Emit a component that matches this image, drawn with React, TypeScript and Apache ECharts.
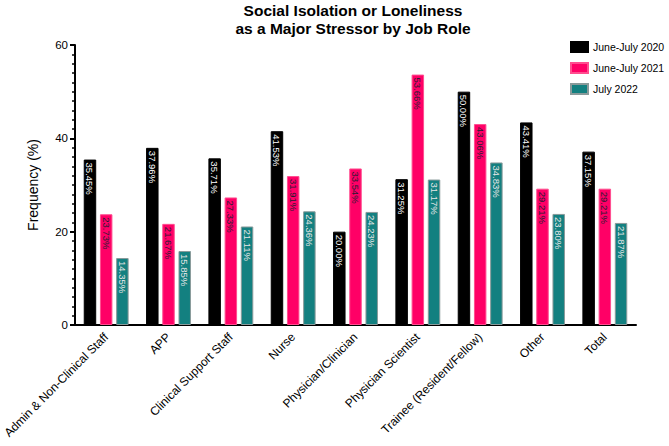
import React, { useEffect, useRef } from "react";
import * as echarts from "echarts";

const categories = [
  "Admin & Non-Clinical Staff",
  "APP",
  "Clinical Support Staff",
  "Nurse",
  "Physician/Clinician",
  "Physician Scientist",
  "Trainee (Resident/Fellow)",
  "Other",
  "Total",
];
const seriesNames = ["June-July 2020", "June-July 2021", "July 2022"];
const values2020 = [35.45, 37.96, 35.71, 41.53, 20.0, 31.25, 50.0, 43.41, 37.15];
const values2021 = [23.73, 21.67, 27.33, 31.91, 33.54, 53.66, 43.06, 29.21, 29.21];
const values2022 = [14.35, 15.85, 21.11, 24.36, 24.23, 31.17, 34.83, 23.8, 21.87];
const yTicks = [0, 20, 40, 60];

const FONT = "'Liberation Sans', Arial, Helvetica, sans-serif";

export default function App() {
  const ref = useRef<HTMLDivElement>(null);
  useEffect(() => {
    document.body.style.margin = "0";
    if (!ref.current) return;
    const chart = echarts.init(ref.current, undefined, { renderer: "svg" });
    const colors = ["#000000", "#FF0066", "#138080"];
    const borders = ["#000000", "#ff4d8f", "#8a9a9a"];
    const labelColors = ["#ffffff", "#2a1a33", "#e6e6e6"];
    const data = [values2020, values2021, values2022];
    chart.setOption({
      animation: false,
      textStyle: { fontFamily: FONT },
      title: {
        text: "Social Isolation or Loneliness\nas a Major Stressor by Job Role",
        left: 353,
        textAlign: "center",
        top: 0,
        padding: [2, 0, 0, 0],
        textStyle: {
          fontFamily: FONT,
          fontSize: 15.5,
          fontWeight: "bold",
          lineHeight: 17.5,
          color: "#000",
        },
      },
      legend: {
        orient: "vertical",
        left: 570,
        top: 41,
        padding: 0,
        itemWidth: 17,
        itemHeight: 10,
        itemGap: 9,
        icon: "rect",
        textStyle: { fontFamily: FONT, fontSize: 10.5, color: "#000" },
        data: seriesNames,
      },
      grid: { left: 75, right: 33, top: 45, bottom: 121, containLabel: false },
      xAxis: {
        type: "category",
        data: categories,
        axisLine: { lineStyle: { color: "#000", width: 2 } },
        axisTick: { alignWithLabel: true, length: 5, lineStyle: { color: "#000", width: 2 } },
        axisLabel: {
          rotate: 45,
          interval: 0,
          fontFamily: FONT,
          fontSize: 12,
          color: "#000",
          margin: 10,
        },
      },
      yAxis: {
        type: "value",
        min: yTicks[0],
        max: yTicks[yTicks.length - 1],
        interval: 20,
        name: "Frequency (%)",
        nameLocation: "middle",
        nameGap: 35,
        nameTextStyle: { fontFamily: FONT, fontSize: 14, color: "#000" },
        axisLine: { show: true, lineStyle: { color: "#000", width: 2 } },
        axisTick: { show: true, length: 5, lineStyle: { color: "#000", width: 2 } },
        minorTick: { show: true, splitNumber: 10, length: 3, lineStyle: { color: "#000", width: 1.5 } },
        splitLine: { show: false },
        axisLabel: { fontFamily: FONT, fontSize: 11.5, color: "#000", margin: 7 },
      },
      series: seriesNames.map((name, i) => ({
        name,
        type: "bar",
        data: data[i],
        barCategoryGap: "28%",
        barGap: "30%",
        itemStyle: { color: colors[i], borderColor: borders[i], borderWidth: 1 },
        label: {
          show: true,
          position: "insideTop",
          distance: 3,
          rotate: -90,
          align: "left",
          verticalAlign: "middle",
          fontFamily: FONT,
          fontSize: 9.5,
          color: labelColors[i],
          formatter: (p: any) => Number(p.value).toFixed(2) + "%",
        },
      })),
    });
    return () => chart.dispose();
  }, []);
  return <div ref={ref} style={{ width: 669, height: 446 }} />;
}
